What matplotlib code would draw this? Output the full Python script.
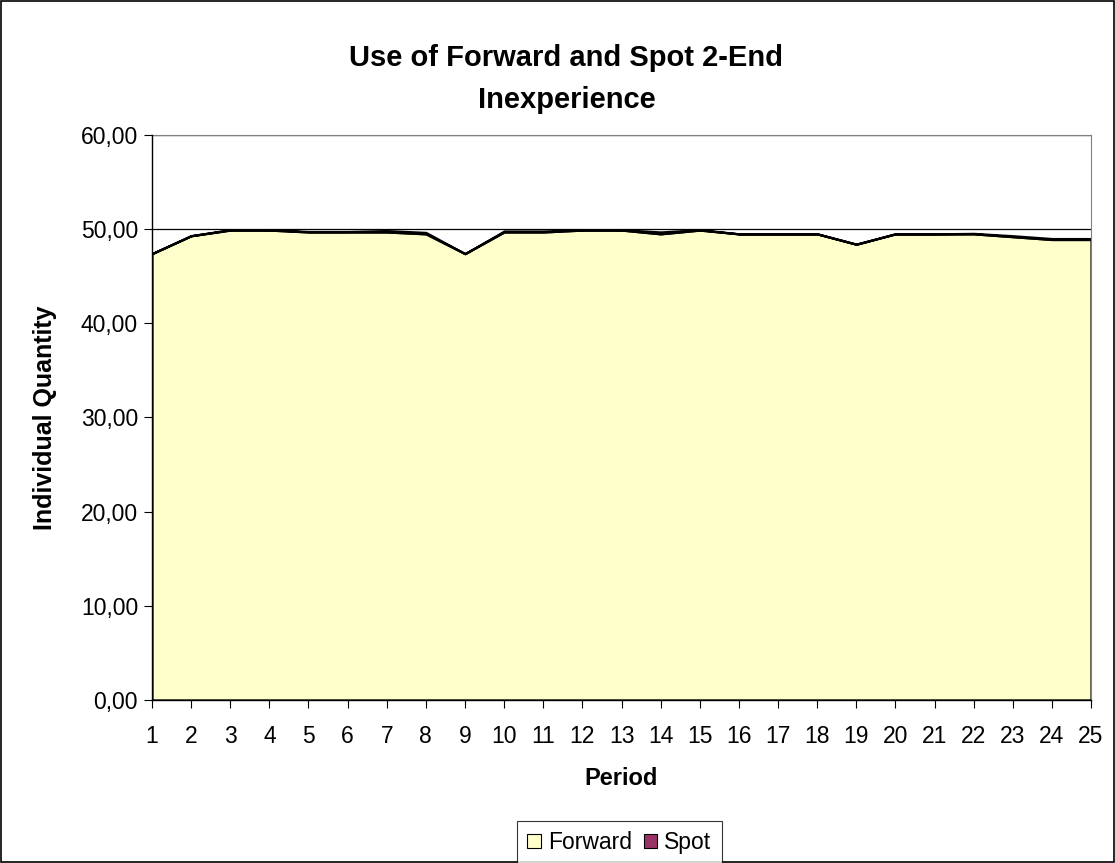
import matplotlib
matplotlib.use("Agg")
import matplotlib.pyplot as plt
from matplotlib.patches import Rectangle
from matplotlib.ticker import FuncFormatter

plt.rcParams['font.family'] = ['Liberation Sans', 'DejaVu Sans']

periods = list(range(1, 26))
forward = [47.4, 49.3, 49.9, 49.9, 49.7, 49.7, 49.7, 49.5, 47.4, 49.7,
           49.7, 49.9, 49.9, 49.5, 49.9, 49.5, 49.5, 49.5, 48.4, 49.5,
           49.5, 49.5, 49.2, 48.9, 48.9]
spot = [0.0, 0.0, 0.05, 0.05, 0.05, 0.05, 0.15, 0.15, 0.0, 0.1,
        0.1, 0.05, 0.05, 0.2, 0.05, 0.0, 0.0, 0.0, 0.0, 0.0,
        0.0, 0.05, 0.1, 0.1, 0.1]
series_names = ["Forward", "Spot"]
colors = ["#FFFFCC", "#993366"]

fs = 16.5

fig = plt.figure(figsize=(11.15, 8.63), dpi=100)
fig.patches.append(Rectangle((0.001, 0.001), 0.998, 0.998, transform=fig.transFigure,
                             fill=False, edgecolor='black', linewidth=1.2))
ax = fig.add_axes([0.1363, 0.1889, 0.8422, 0.6547])

for y in [10, 20, 30, 40, 50, 60]:
    ax.axhline(y, color='black', linewidth=0.9, zorder=0)

ax.stackplot(periods, forward, spot, colors=colors, edgecolor='black',
             linewidth=1.6, zorder=2)

ax.set_xlim(1, 25)
ax.set_ylim(0, 60)
ax.set_xticks(periods)
ax.set_xticklabels([str(p) for p in periods])
ax.set_yticks(range(0, 61, 10))
ax.yaxis.set_major_formatter(FuncFormatter(lambda v, p: f"{v:.2f}".replace('.', ',')))
ax.tick_params(axis='both', labelsize=fs, direction='out', length=6, color='black')
ax.tick_params(axis='x', pad=12)
ax.tick_params(axis='y', pad=4)
for s in ['top', 'right']:
    ax.spines[s].set_color('#808080')
for s in ['left', 'bottom']:
    ax.spines[s].set_color('black')
    ax.spines[s].set_linewidth(1.0)
    ax.spines[s].set_zorder(5)

ax.set_xlabel("Period", fontsize=fs + 0.5, fontweight='bold', labelpad=14)
ax.set_ylabel("Individual Quantity", fontsize=18, fontweight='bold', labelpad=17)
fig.text(0.508, 0.933, "Use of Forward and Spot 2-End", ha='center', va='center',
         fontsize=21, fontweight='bold')
fig.text(0.508, 0.884, "Inexperience", ha='center', va='center',
         fontsize=21, fontweight='bold')

handles = [Rectangle((0, 0), 1, 1, facecolor=c, edgecolor='black', linewidth=0.8) for c in colors]
leg = fig.legend(handles, series_names, loc='upper center', bbox_to_anchor=(0.5555, 0.049),
                 ncol=2, fontsize=fs, frameon=True, fancybox=False, handlelength=0.6,
                 handleheight=0.6, handletextpad=0.3, columnspacing=0.5, borderpad=0.45,
                 borderaxespad=0)
leg.get_frame().set_edgecolor('black')
leg.get_frame().set_linewidth(0.8)

fig.savefig("out.png", dpi=100)
